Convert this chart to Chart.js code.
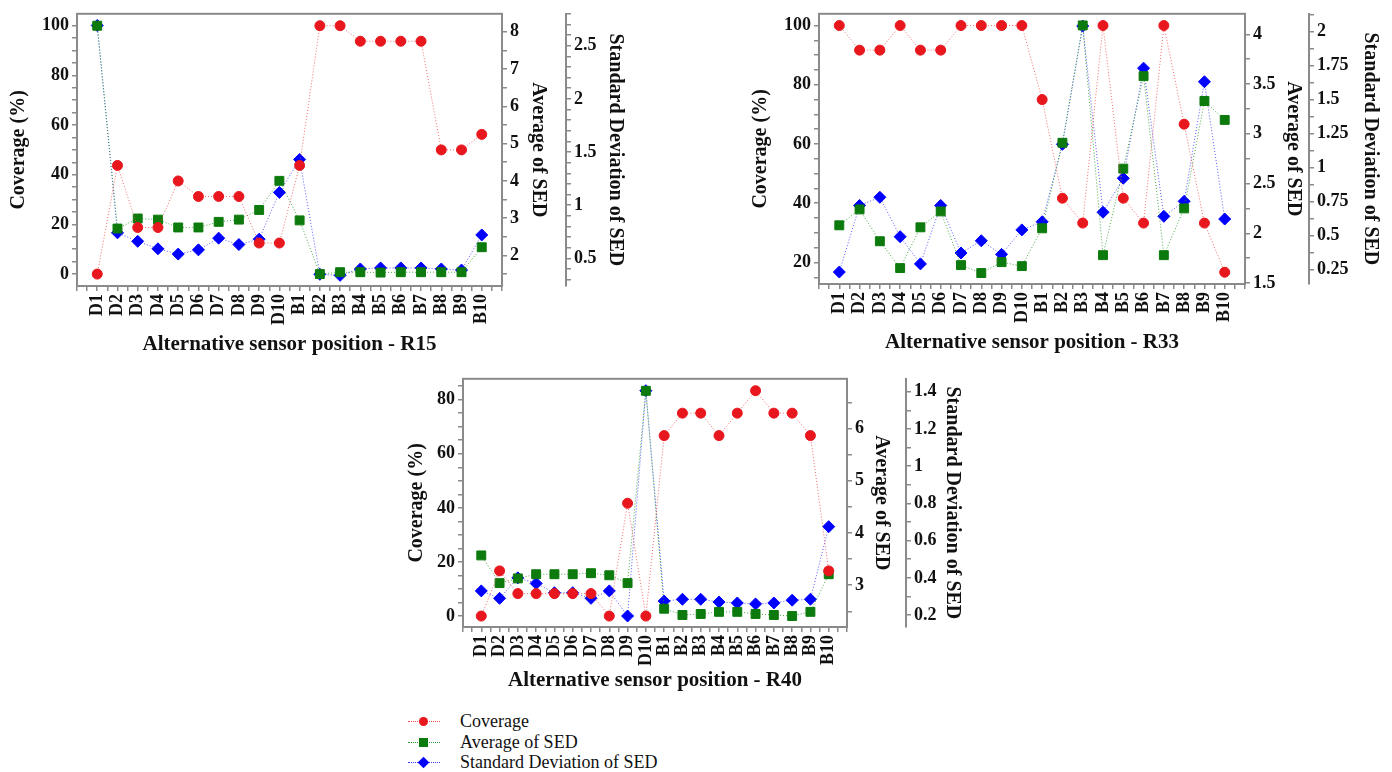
<!DOCTYPE html>
<html>
<head>
<meta charset="utf-8">
<script src="https://cdn.jsdelivr.net/npm/chart.js@4.4.1/dist/chart.umd.min.js"></script>
<style>
  body { margin: 0; background: #fff; width: 1392px; height: 772px; position: relative; overflow: hidden; }
  canvas { position: absolute; }
  #legend { position: absolute; left: 405px; top: 711px; font-family: 'Liberation Serif', 'Times New Roman', serif; font-size: 18px; color: #111; }
  .row { position: relative; height: 20.5px; line-height: 20.5px; }
  .line { position: absolute; left: 3px; top: 10px; width: 32px; border-top: 1px dotted; }
  .mark { position: absolute; left: 14px; top: 6px; width: 9px; height: 9px; }
  .row span.txt { position: absolute; left: 55px; top: 0; white-space: nowrap; }
</style>
</head>
<body>
<canvas id="r15" width="640" height="360" style="left:0px;top:0px"></canvas>
<canvas id="r33" width="652" height="358" style="left:740px;top:0px"></canvas>
<canvas id="r40" width="585" height="331" style="left:395px;top:365px"></canvas>

<div id="legend">
  <div class="row"><i class="line" style="border-color:#f04848"></i><i class="mark" style="background:#e8161d;border-radius:50%"></i><span class="txt">Coverage</span></div>
  <div class="row"><i class="line" style="border-color:#2c9a2c"></i><i class="mark" style="background:#0c7a0c"></i><span class="txt">Average of SED</span></div>
  <div class="row"><i class="line" style="border-color:#3a3aff"></i><i class="mark" style="background:#0000ff;transform:rotate(45deg) scale(0.9)"></i><span class="txt">Standard Deviation of SED</span></div>
</div>

<script>
const sensorPositions = ['D1', 'D2', 'D3', 'D4', 'D5', 'D6', 'D7', 'D8', 'D9', 'D10',
                         'B1', 'B2', 'B3', 'B4', 'B5', 'B6', 'B7', 'B8', 'B9', 'B10'];

// R15
const coverageR15 = [0, 43.75, 18.75, 18.75, 37.5, 31.25, 31.25, 31.25, 12.5, 12.5, 43.75, 100, 100, 93.75, 93.75, 93.75, 93.75, 50, 50, 56.25];
const avgSedR15 = [8.16, 2.72, 2.99, 2.96, 2.75, 2.75, 2.9, 2.96, 3.22, 4.0, 2.94, 1.5, 1.55, 1.55, 1.54, 1.55, 1.55, 1.55, 1.55, 2.22];
const sdSedR15 = [2.69, 0.74, 0.66, 0.59, 0.54, 0.58, 0.69, 0.63, 0.68, 1.12, 1.43, 0.35, 0.34, 0.4, 0.41, 0.41, 0.41, 0.4, 0.39, 0.72];

// R33
const coverageR33 = [100, 91.7, 91.7, 100, 91.7, 91.7, 100, 100, 100, 100, 75, 41.7, 33.3, 100, 41.7, 33.3, 100, 66.7, 33.3, 16.7];
const avgSedR33 = [2.08, 2.24, 1.92, 1.65, 2.06, 2.22, 1.68, 1.6, 1.71, 1.67, 2.05, 2.91, 4.09, 1.78, 2.65, 3.58, 1.78, 2.25, 3.33, 3.14];
const sdSedR33 = [0.23, 0.72, 0.78, 0.49, 0.29, 0.72, 0.37, 0.46, 0.36, 0.54, 0.6, 1.17, 2.04, 0.67, 0.92, 1.73, 0.64, 0.75, 1.63, 0.62];

// R40
const coverageR40 = [0, 16.7, 8.3, 8.3, 8.3, 8.3, 8.3, 0, 41.7, 0, 66.7, 75, 75, 66.7, 75, 83.3, 75, 75, 66.7, 16.7];
const avgSedR40 = [3.57, 3.04, 3.13, 3.21, 3.21, 3.21, 3.23, 3.19, 3.04, 6.72, 2.55, 2.43, 2.45, 2.49, 2.49, 2.45, 2.43, 2.41, 2.49, 3.21];
const sdSedR40 = [0.33, 0.29, 0.4, 0.37, 0.32, 0.32, 0.29, 0.33, 0.195, 1.405, 0.275, 0.285, 0.285, 0.27, 0.265, 0.26, 0.265, 0.28, 0.285, 0.675];

const serif = "'Liberation Serif', 'Times New Roman', serif";
const axisGray = '#8a8a8a';

// grey box round the plot area
const framePlugin = {
    id: 'frame',
    beforeDatasetsDraw(chart) {
        const { ctx, chartArea: a } = chart;
        ctx.save();
        ctx.strokeStyle = axisGray;
        ctx.lineWidth = 2;
        ctx.strokeRect(a.left, a.top, a.width, a.height);
        ctx.restore();
    }
};

function pts(values) {
    return values.map((v, i) => ({ x: i, y: v }));
}

function majorLabel(major) {
    return function (v) {
        const k = Math.round(v * 1000);
        return k % Math.round(major * 1000) === 0 ? String(k / 1000) : '';
    };
}

function yAxis(pos, width, range, step, major, title, titlePad) {
    return {
        type: 'linear',
        position: pos,
        min: range[0],
        max: range[1],
        afterFit: (s) => { s.width = width; },
        border: { color: axisGray, width: 2 },
        grid: { drawOnChartArea: false, drawTicks: true, tickLength: 5, color: axisGray, lineWidth: 1.5 },
        ticks: {
            stepSize: step,
            autoSkip: false,
            includeBounds: false,
            padding: 3,
            color: '#111',
            font: { family: serif, size: 18, weight: 'bold' },
            callback: majorLabel(major)
        },
        title: {
            display: true,
            text: title,
            color: '#111',
            padding: { top: titlePad, bottom: 0 },
            font: { family: serif, size: 20, weight: 'bold' }
        }
    };
}

function makePanel(id, name, cov, avg, sd, spec) {
    return new Chart(document.getElementById(id), {
        type: 'line',
        data: {
            datasets: [{
                label: 'Coverage',
                data: pts(cov),
                yAxisID: 'y',
                borderColor: 'rgba(240,72,72,0.8)',
                borderWidth: 1,
                borderDash: [1, 2],
                pointStyle: 'circle',
                pointRadius: 5,
                pointBackgroundColor: '#e8161d',
                pointBorderColor: '#e8161d'
            },
            {
                label: 'Average of SED',
                data: pts(avg),
                yAxisID: 'y1',
                borderColor: 'rgba(44,154,44,0.85)',
                borderWidth: 1,
                borderDash: [1, 2],
                pointStyle: 'rect',
                pointRadius: 6.3,
                pointBackgroundColor: '#0c7a0c',
                pointBorderColor: '#0c7a0c'
            },
            {
                label: 'Standard Deviation of SED',
                data: pts(sd),
                yAxisID: 'y2',
                borderColor: 'rgba(58,58,255,0.85)',
                borderWidth: 1,
                borderDash: [1, 2],
                pointStyle: 'rectRot',
                pointRadius: 6,
                pointBackgroundColor: '#0000ff',
                pointBorderColor: '#0000ff'
            }]
        },
        options: {
            responsive: false,
            animation: false,
            layout: { autoPadding: false, padding: { top: spec.padTop } },
            plugins: { legend: { display: false }, tooltip: { enabled: false } },
            scales: {
                x: {
                    type: 'linear',
                    min: -1,
                    max: 20,
                    afterFit: (s) => { s.height = spec.xH; },
                    border: { color: axisGray, width: 2 },
                    grid: { drawOnChartArea: false, drawTicks: true, tickLength: 5, color: axisGray, lineWidth: 1.5 },
                    ticks: {
                        stepSize: 0.5,
                        autoSkip: false,
                        minRotation: 90,
                        maxRotation: 90,
                        padding: 3,
                        color: '#111',
                        font: { family: serif, size: 18, weight: 'bold' },
                        callback: (v) => Number.isInteger(v) && sensorPositions[v] ? sensorPositions[v] : ''
                    },
                    title: {
                        display: true,
                        text: 'Alternative sensor position - ' + name,
                        color: '#111',
                        padding: { top: 0, bottom: 2.4 },
                        font: { family: serif, size: 21, weight: 'bold' }
                    }
                },
                y: yAxis('left', spec.yW, spec.yRange, spec.yStep, spec.yMajor, 'Coverage (%)', spec.yPad),
                y1: yAxis('right', spec.y1W, spec.y1Range, spec.y1Step, spec.y1Major, 'Average of SED', spec.y1Pad),
                y2: yAxis('right', spec.y2W, spec.y2Range, spec.y2Step, spec.y2Major, 'Standard Deviation of SED', spec.y2Pad)
            }
        },
        plugins: [framePlugin]
    });
}

const chartR15 = makePanel('r15', 'R15', coverageR15, avgSedR15, sdSedR15, {
    padTop: 11, xH: 74,
    yW: 77, yRange: [-4.8, 104.8], yStep: 5, yMajor: 20, yPad: 7,
    y1W: 64, y1Range: [1.18, 8.48], y1Step: 0.5, y1Major: 1, y1Pad: 16,
    y2W: 74, y2Range: [0.24, 2.80], y2Step: 0.1, y2Major: 0.5, y2Pad: 13
});

const chartR33 = makePanel('r33', 'R33', coverageR33, avgSedR33, sdSedR33, {
    padTop: 8, xH: 74,
    yW: 79, yRange: [12.73, 103.97], yStep: 5, yMajor: 20, yPad: 9,
    y1W: 64, y1Range: [1.49, 4.207], y1Step: 0.25, y1Major: 0.5, y1Pad: 4,
    y2W: 83, y2Range: [0.142, 2.13], y2Step: 0.125, y2Major: 0.25, y2Pad: 10
});

const chartR40 = makePanel('r40', 'R40', coverageR40, avgSedR40, sdSedR40, {
    padTop: 12, xH: 69,
    yW: 68, yRange: [-4.04, 87.7], yStep: 5, yMajor: 20, yPad: 10,
    y1W: 59, y1Range: [2.2, 6.95], y1Step: 0.5, y1Major: 1, y1Pad: 13,
    y2W: 74, y2Range: [0.136, 1.469], y2Step: 0.1, y2Major: 0.2, y2Pad: 16
});
</script>
</body>
</html>
